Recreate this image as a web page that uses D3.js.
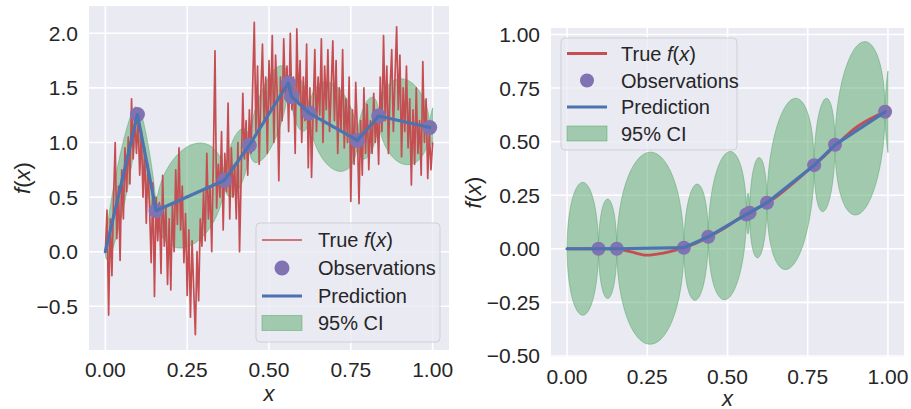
<!DOCTYPE html>
<html>
<head>
<meta charset="utf-8">
<script src="https://cdn.jsdelivr.net/npm/d3@7"></script>
<style>
  body { margin: 0; background: #fff; }
  svg { display: block; font-family: "Liberation Sans", Arial, sans-serif; }
  .tick-label { font-size: 21px; fill: #262626; }
  .leg-text { font-size: 20px; fill: #262626; }
  .ax-label { font-size: 22px; fill: #262626; font-style: italic; }
</style>
</head>
<body>
<svg id="chart" width="911" height="409"></svg>
<script>
// observation locations shared by both panels
const obsX = [0.098, 0.155, 0.364, 0.44, 0.559, 0.569, 0.623, 0.77, 0.835, 0.991];

// left panel: noisy process
const leftObsY = [1.256, 0.375, 0.655, 0.975, 1.545, 1.42, 1.27, 1.02, 1.243, 1.137];
const leftCIHalf = [0.31, 0.23, 0.46, 0.27, 0.34, 0.1, 0.23, 0.39, 0.26, 0.39];
const leftTailHalf = 0.18;
const leftTrueStep = 0.005;
const leftTrue = [
  0.0, 0.38, -0.58, 0.3, -0.22, 0.48, 1.0, 0.12, 0.6, -0.08,
  0.75, 0.3, 0.95, 0.55, 1.05, 0.62, 1.4, 0.85, 1.25, 0.9,
  1.2, 0.7, 1.1, 0.5, 0.95, 0.26, 0.8, 0.4, -0.1, 0.63,
  -0.41, 0.5, 0.1, 0.45, -0.2, 0.7, 0.05, 0.4, -0.3, 0.3,
  -0.35, 0.45, 0.0, 0.75, 0.25, 0.95, 0.2, 0.6, -0.1, 0.35,
  -0.4, 0.2, -0.6, 0.1, -0.35, -0.76, 0.0, -0.45, 0.3, 0.05,
  0.55, 0.1, 0.9, 0.3, 0.6, 0.0, 0.85, 1.84, 0.4, 0.8,
  0.5, 1.1, 0.2, 0.9, 0.55, 1.36, 0.3, 0.95, 0.5, 0.8,
  0.3, 1.0, 0.0, 0.7, 1.45, 0.85, 1.2, 0.7, 1.3, 0.9,
  1.5, 2.1, 1.1, 1.7, 0.8, 1.45, 1.9, 1.2, 1.6, 0.9,
  1.75, 1.3, 1.98, 1.0, 1.8, 1.45, 0.65, 1.6, 1.2, 1.95,
  1.4, 1.7, 1.1, 2.0, 1.3, 1.6, 0.9, 2.04, 1.35, 1.75,
  1.0, 1.6, 1.2, 1.9, 0.77, 1.5, 0.68, 1.3, 1.85, 1.1,
  1.6, 1.25, 1.95, 1.0, 1.7, 1.3, 1.85, 1.1, 1.5, 1.93,
  1.2, 1.75, 0.9, 1.5, 1.1, 1.85, 0.95, 1.4, 1.0, 1.6,
  0.46, 1.3, 0.8, 1.55, 1.1, 0.44, 1.2, 0.7, 1.5, 0.9,
  1.35, 0.75, 1.2, 0.9, 1.45, 1.0, 1.3, 0.8, 1.6, 1.1,
  1.98, 1.2, 1.7, 0.9, 1.5, 1.85, 1.1, 1.6, 2.06, 1.3,
  1.8, 0.87, 1.5, 1.1, 1.7, 0.95, 1.4, 0.61, 1.3, 0.8,
  1.5, 0.9, 1.2, 0.7, 1.74, 1.0, 1.4, 0.67, 1.1, 0.75,
  1.0
];

// right panel: smooth function
const rightObsY = [0.0, 0.0, 0.005, 0.056, 0.16, 0.168, 0.215, 0.39, 0.485, 0.639];
const rightCIHalf = [0.31, 0.232, 0.448, 0.27, 0.342, 0.095, 0.233, 0.39, 0.26, 0.397];
const rightTailHalf = 0.19;
const rightTrueX = [0, 0.05, 0.1, 0.15, 0.2, 0.25, 0.3, 0.35, 0.4, 0.45, 0.5,
  0.55, 0.6, 0.65, 0.7, 0.75, 0.8, 0.85, 0.9, 0.95, 0.99];
const rightTrueY = [0, 0, 0, 0, -0.015, -0.03, -0.02, -0.002, 0.025, 0.062, 0.105,
  0.155, 0.195, 0.24, 0.3, 0.365, 0.43, 0.5, 0.565, 0.61, 0.64];

const xTicks = [0, 0.25, 0.5, 0.75, 1.0];
const leftYTicks = [-0.5, 0, 0.5, 1.0, 1.5, 2.0];
const rightYTicks = [-0.5, -0.25, 0, 0.25, 0.5, 0.75, 1.0];

const C = { bg: "#EAEAF2", red: "#C44E52", blue: "#4C72B0", purple: "#8172B2", green: "#55A868" };

const svg = d3.select("#chart");
const minus = s => s.replace("-", "\u2212");

function panel(cfg) {
  const x = d3.scaleLinear().domain([-0.05, 1.05]).range([cfg.x0, cfg.x1]);
  const y = d3.scaleLinear().domain(cfg.yDomain).range([cfg.y1, cfg.y0]);
  const g = svg.append("g");

  g.append("rect").attr("x", cfg.x0).attr("y", cfg.y0)
    .attr("width", cfg.x1 - cfg.x0).attr("height", cfg.y1 - cfg.y0).attr("fill", C.bg);

  // grid
  g.selectAll(".gx").data(xTicks).join("line")
    .attr("x1", d => x(d)).attr("x2", d => x(d)).attr("y1", cfg.y0).attr("y2", cfg.y1)
    .attr("stroke", "#fff").attr("stroke-width", 1.6);
  g.selectAll(".gy").data(cfg.yTicks).join("line")
    .attr("y1", d => y(d)).attr("y2", d => y(d)).attr("x1", cfg.x0).attr("x2", cfg.x1)
    .attr("stroke", "#fff").attr("stroke-width", 1.6);

  // tick labels
  g.selectAll(".tx").data(xTicks).join("text").attr("class", "tick-label")
    .attr("x", d => x(d)).attr("y", cfg.y1 + 19).attr("text-anchor", "middle")
    .attr("dominant-baseline", "central").text(d => d.toFixed(2));
  g.selectAll(".ty").data(cfg.yTicks).join("text").attr("class", "tick-label")
    .attr("x", cfg.x0 - 11).attr("y", d => y(d)).attr("text-anchor", "end")
    .attr("dominant-baseline", "central").text(d => minus(d.toFixed(cfg.yFmt)));

  // axis labels
  g.append("text").attr("class", "ax-label").attr("x", (cfg.x0 + cfg.x1) / 2)
    .attr("y", cfg.xLabelY).attr("text-anchor", "middle").attr("dominant-baseline", "central").text("x");
  const yl = g.append("text").attr("class", "ax-label")
    .attr("transform", `translate(${cfg.yLabelX},${(cfg.y0 + cfg.y1) / 2}) rotate(-90)`)
    .attr("text-anchor", "middle").attr("dominant-baseline", "central");
  yl.append("tspan").text("f");
  yl.append("tspan").attr("font-style", "normal").text("(");
  yl.append("tspan").text("x");
  yl.append("tspan").attr("font-style", "normal").text(")");

  const clipId = "clip" + cfg.id;
  svg.append("clipPath").attr("id", clipId).append("rect")
    .attr("x", cfg.x0).attr("y", cfg.y0).attr("width", cfg.x1 - cfg.x0).attr("height", cfg.y1 - cfg.y0);
  const plot = g.append("g").attr("clip-path", `url(#${clipId})`);

  // 95% CI lobes between consecutive knots
  const kx = [0].concat(obsX), ky = [0].concat(cfg.obsY);
  const area = d3.area().x(d => x(d.x)).y0(d => y(d.lo)).y1(d => y(d.hi));
  const lobes = cfg.ciHalf.map((h, i) => {
    const a = kx[i], b = kx[i + 1], pa = ky[i], pb = ky[i + 1];
    return d3.range(0, 41).map(k => {
      const t = Math.PI * k / 40;
      const xv = (a + b) / 2 - (b - a) / 2 * Math.cos(t);
      const p = pa + (pb - pa) * (xv - a) / (b - a);
      return { x: xv, lo: p - h * Math.sin(t), hi: p + h * Math.sin(t) };
    });
  });
  const last = kx[kx.length - 1], lastY = ky[ky.length - 1];
  lobes.push(d3.range(0, 21).map(k => {
    const u = k / 20;
    return { x: last + (1 - last) * u * u, lo: lastY - cfg.tailHalf * u, hi: lastY + cfg.tailHalf * u };
  }));
  plot.selectAll(".ci").data(lobes).join("path")
    .attr("d", area).attr("fill", C.green).attr("fill-opacity", 0.5)
    .attr("stroke", C.green).attr("stroke-opacity", 0.5).attr("stroke-width", 1);

  // true f(x)
  plot.append("path").datum(cfg.trueX.map((d, i) => [d, cfg.trueY[i]]))
    .attr("fill", "none").attr("stroke", C.red).attr("stroke-width", cfg.redW)
    .attr("stroke-linejoin", "round")
    .attr("d", d3.line().x(d => x(d[0])).y(d => y(d[1])).curve(cfg.redCurve));

  // observations
  plot.selectAll(".obs").data(obsX.map((d, i) => [d, cfg.obsY[i]])).join("circle")
    .attr("cx", d => x(d[0])).attr("cy", d => y(d[1])).attr("r", cfg.obsR).attr("fill", C.purple);

  // prediction
  plot.append("path").datum(kx.map((d, i) => [d, ky[i]]))
    .attr("fill", "none").attr("stroke", C.blue).attr("stroke-width", 3.2)
    .attr("stroke-linejoin", "round").attr("stroke-linecap", "round")
    .attr("d", d3.line().x(d => x(d[0])).y(d => y(d[1])));

  // legend
  const L = cfg.legend;
  const lg = g.append("g");
  lg.append("rect").attr("x", L.x).attr("y", L.y).attr("width", L.w).attr("height", L.h)
    .attr("rx", 4).attr("fill", C.bg).attr("fill-opacity", 0.8).attr("stroke", "#cfcfd6").attr("stroke-width", 1);
  const hx0 = L.x + 6, hx1 = L.x + 46, tx = L.x + L.textDx;
  const rows = L.rows;
  lg.append("line").attr("x1", hx0).attr("x2", hx1).attr("y1", rows[0]).attr("y2", rows[0])
    .attr("stroke", C.red).attr("stroke-width", cfg.redW);
  lg.append("circle").attr("cx", (hx0 + hx1) / 2).attr("cy", rows[1]).attr("r", cfg.obsR).attr("fill", C.purple);
  lg.append("line").attr("x1", hx0).attr("x2", hx1).attr("y1", rows[2]).attr("y2", rows[2])
    .attr("stroke", C.blue).attr("stroke-width", 3.2);
  lg.append("rect").attr("x", hx0).attr("y", rows[3] - 7.5).attr("width", 40).attr("height", 15)
    .attr("fill", C.green).attr("fill-opacity", 0.5).attr("stroke", C.green).attr("stroke-opacity", 0.5);
  const t0 = lg.append("text").attr("class", "leg-text").attr("x", tx).attr("y", rows[0]).attr("dominant-baseline", "central");
  t0.append("tspan").text("True ");
  t0.append("tspan").attr("font-style", "italic").text("f");
  t0.append("tspan").text("(");
  t0.append("tspan").attr("font-style", "italic").text("x");
  t0.append("tspan").text(")");
  ["Observations", "Prediction", "95% CI"].forEach((s, i) => {
    lg.append("text").attr("class", "leg-text").attr("x", tx).attr("y", rows[i + 1])
      .attr("dominant-baseline", "central").text(s);
  });
}

panel({
  id: "L", x0: 89, x1: 449, y0: 6, y1: 350, yDomain: [-0.9, 2.25],
  yTicks: leftYTicks, yFmt: 1, yLabelX: 22, xLabelY: 393,
  trueX: leftTrue.map((d, i) => i * leftTrueStep), trueY: leftTrue, redW: 1.7, redCurve: d3.curveLinear,
  obsY: leftObsY, ciHalf: leftCIHalf, tailHalf: leftTailHalf, obsR: 7.5,
  legend: { x: 256, y: 223, w: 184, h: 119, textDx: 62, rows: [240, 268, 296, 323] }
});

panel({
  id: "R", x0: 551, x1: 904, y0: 28, y1: 357, yDomain: [-0.505, 1.03],
  yTicks: rightYTicks, yFmt: 2, yLabelX: 473, xLabelY: 398,
  trueX: rightTrueX, trueY: rightTrueY, redW: 2.8, redCurve: d3.curveMonotoneX,
  obsY: rightObsY, ciHalf: rightCIHalf, tailHalf: rightTailHalf, obsR: 7,
  legend: { x: 561, y: 38, w: 176, h: 112, textDx: 60, rows: [53.5, 80.5, 107, 133.5] }
});
</script>
</body>
</html>
